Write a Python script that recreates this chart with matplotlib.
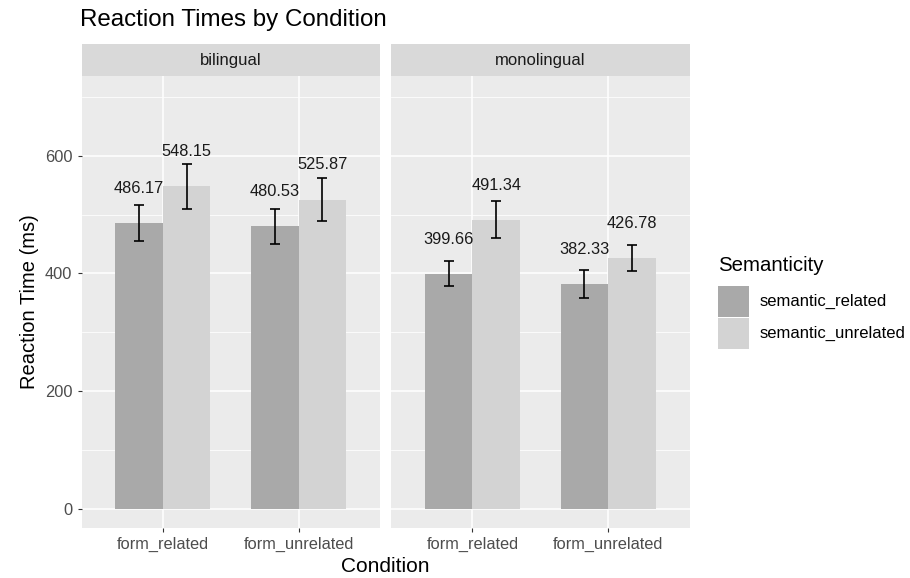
import numpy as np
import matplotlib.pyplot as plt
from matplotlib.patches import Rectangle

# data
groups = ['bilingual', 'monolingual']
conditions = ['form_related', 'form_unrelated']
semantics = ['semantic_related', 'semantic_unrelated']
means = {
    'bilingual':   {'semantic_related': [486.17, 480.53], 'semantic_unrelated': [548.15, 525.87]},
    'monolingual': {'semantic_related': [399.66, 382.33], 'semantic_unrelated': [491.34, 426.78]},
}
errs = {
    'bilingual':   {'semantic_related': [31.0, 29.7], 'semantic_unrelated': [38.2, 36.3]},
    'monolingual': {'semantic_related': [21.2, 24.1], 'semantic_unrelated': [31.2, 22.1]},
}
colors = {'semantic_related': '#A9A9A9', 'semantic_unrelated': '#D3D3D3'}

plt.rcParams['font.family'] = ['Liberation Sans', 'DejaVu Sans']

fig = plt.figure(figsize=(9.1, 5.78), dpi=100)
W, H = 910., 578.
panels = [(81.5, 380.0), (391.0, 689.6)]
top_px, bot_px = 76.0, 528.0
strip_top = 44.0

x = np.arange(1, len(conditions) + 1)
bw = 0.35
axes = []
for i, g in enumerate(groups):
    l, r = panels[i]
    ax = fig.add_axes([l / W, 1 - bot_px / H, (r - l) / W, (bot_px - top_px) / H])
    ax.set_facecolor('#EBEBEB')
    for s in ax.spines.values():
        s.set_visible(False)
    ax.set_xlim(0.4, 2.6)
    ax.set_ylim(-33, 736)
    ax.set_yticks([0, 200, 400, 600])
    ax.set_yticks([100, 300, 500, 700], minor=True)
    ax.set_xticks(x)
    ax.set_xticklabels(conditions)
    ax.grid(True, which='major', color='white', lw=1.1)
    ax.grid(True, which='minor', axis='y', color='white', lw=0.55)
    ax.set_axisbelow(True)
    ax.tick_params(which='major', length=3, color='#333333', labelcolor='#4D4D4D', labelsize=11.8, width=0.8)
    ax.tick_params(which='minor', length=0)
    if i > 0:
        ax.tick_params(axis='y', which='both', left=False, labelleft=False)
    for j, sem in enumerate(semantics):
        xp = x + (j - 0.5) * bw
        m = means[g][sem]
        e = errs[g][sem]
        ax.bar(xp, m, width=bw, color=colors[sem], zorder=2)
        ax.errorbar(xp, m, yerr=e, fmt='none', ecolor='black', elinewidth=1.2,
                    capsize=3.6, capthick=1.2, zorder=3)
        for xi, mi in zip(xp, m):
            ax.text(xi, mi + 46, f'{mi:.2f}', ha='center', va='bottom', fontsize=11.8, color='#1A1A1A')
    # strip
    fig.add_artist(Rectangle((l / W, 1 - top_px / H), (r - l) / W, (top_px - strip_top) / H,
                             transform=fig.transFigure, facecolor='#D9D9D9', edgecolor='none'))
    fig.text((l + r) / 2 / W, 1 - (top_px + strip_top) / 2 / H, g, ha='center', va='center',
             fontsize=12, color='#1A1A1A')
    axes.append(ax)

axes[0].set_ylabel('Reaction Time (ms)', fontsize=14.5, labelpad=4)
fig.text((panels[0][0] + panels[1][1]) / 2 / W, 1 - 566 / H, 'Condition', ha='center', va='center', fontsize=15)
fig.text(80 / W, 1 - 20 / H, 'Reaction Times by Condition', ha='left', va='center', fontsize=17.4)

# legend, ggplot style
fig.text(718 / W, 1 - 266 / H, 'Semanticity', ha='left', va='center', fontsize=14.7)
key = 30.5
for k, sem in enumerate(semantics):
    ky = 286 + k * (key + 1.5)
    fig.add_artist(Rectangle((718 / W, 1 - (ky + key) / H), key / W, key / H,
                             transform=fig.transFigure, facecolor=colors[sem], edgecolor='none'))
    fig.text(760 / W, 1 - (ky + key / 2) / H, sem, ha='left', va='center', fontsize=12)

fig.savefig('out.png', dpi=100)
